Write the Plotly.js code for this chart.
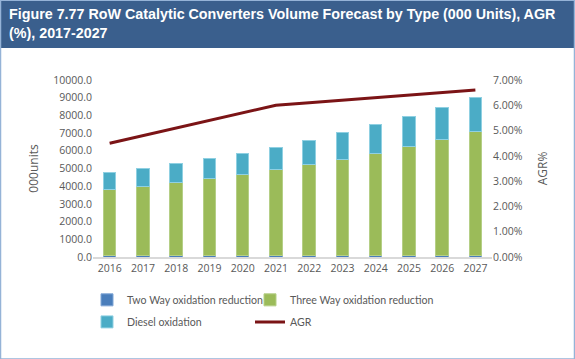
<!DOCTYPE html>
<html><head><meta charset="utf-8">
<script src="https://cdn.plot.ly/plotly-3.0.1.min.js"></script>
<style>html,body{margin:0;padding:0;background:#fff;}#chart{width:575px;height:359px;}</style>
</head><body><div id="chart"></div>
<script>
const years = ['2016','2017','2018','2019','2020','2021','2022','2023','2024','2025','2026','2027'];
const twoWay = [80,80,80,80,80,80,80,80,80,80,80,80];
const threeWay = [3720,3920,4115,4340,4580,4850,5130,5445,5780,6160,6555,7005];
const diesel = [975,1015,1070,1130,1200,1275,1385,1505,1600,1690,1805,1935];
const agr = [0.045,0.048,0.051,0.054,0.057,0.060,0.061,0.062,0.063,0.064,0.065,0.066];

const tickFont = {family:'Open Sans, Liberation Sans, sans-serif', size:10.5, color:'#595959'};
const legFont = {family:'Lato, Liberation Sans, sans-serif', size:10.6, color:'#595959'};
const L=93, R=492, T=80, B=256.7;
const px = x => (x-L)/(R-L);
const py = y => (B-y)/(B-T);

const traces = [
  {type:'bar', name:'Two Way oxidation reduction', x:years, y:twoWay, marker:{color:'#4A7EBB', line:{color:'#7FA6D6', width:1}}, width:0.38, legend:'legend'},
  {type:'bar', name:'Three Way oxidation reduction', x:years, y:threeWay, marker:{color:'#9BBB59', line:{color:'#B5CF86', width:1}}, width:0.38, legend:'legend2'},
  {type:'bar', name:'Diesel oxidation', x:years, y:diesel, marker:{color:'#4BACC6', line:{color:'#8FD0E2', width:1}}, width:0.38, legend:'legend3'},
  {type:'scatter', mode:'lines', name:'AGR', x:years, y:agr, yaxis:'y2', line:{color:'#7B1416', width:3}, legend:'legend4'}
];

const leg = (x, y) => ({orientation:'h', x:px(x), xanchor:'left', y:py(y), yanchor:'top', font:legFont, itemwidth:30, bgcolor:'rgba(0,0,0,0)'});

const layout = {
  width:575, height:359,
  margin:{l:L, r:575-R, t:T, b:359-B},
  paper_bgcolor:'#ffffff', plot_bgcolor:'rgba(0,0,0,0)',
  barmode:'stack', bargap:0.62,
  showlegend:true,
  xaxis:{type:'category', tickfont:tickFont, showgrid:false, showline:true, linecolor:'#D9D9D9', linewidth:2, ticks:'', zeroline:false, fixedrange:true},
  yaxis:{range:[0,10000], dtick:1000, tickformat:'.1f', tickfont:tickFont, showgrid:false, zeroline:false, showline:false, ticks:'',
    title:{text:'000units', font:{family:'Open Sans, Liberation Sans, sans-serif', size:12, color:'#595959'}, standoff:12}},
  yaxis2:{overlaying:'y', side:'right', range:[0,0.07], dtick:0.01, tickformat:'.2%', tickfont:tickFont, showgrid:false, zeroline:false, showline:false, ticks:'',
    title:{text:'AGR%', font:{family:'Open Sans, Liberation Sans, sans-serif', size:12, color:'#595959'}, standoff:16}},
  legend: leg(87, 285),
  legend2: leg(250, 285),
  legend3: leg(87, 307),
  legend4: leg(250, 307),
  annotations:[
    {text:'Figure 7.77 RoW Catalytic Converters Volume Forecast by Type (000 Units), AGR<br>(%), 2017-2027',
     xref:'paper', yref:'paper', x:px(7), y:py(24), xanchor:'left', yanchor:'middle', align:'left', showarrow:false,
     font:{family:'Liberation Sans, Arial, sans-serif', size:14.3, color:'#ffffff', weight:'bold'}}
  ],
  shapes:[
    {type:'rect', xref:'paper', yref:'paper', x0:px(0), x1:px(575), y0:py(0), y1:py(48), fillcolor:'#3A5F8D', line:{width:0}, layer:'below'},
    {type:'rect', xref:'paper', yref:'paper', x0:px(0.5), x1:px(574.5), y0:py(0.5), y1:py(358.5), fillcolor:'rgba(0,0,0,0)', line:{color:'#95B3D7', width:1.5}, layer:'below'}
  ]
};
Plotly.newPlot('chart', traces, layout, {staticPlot:true, displayModeBar:false});
</script></body></html>
